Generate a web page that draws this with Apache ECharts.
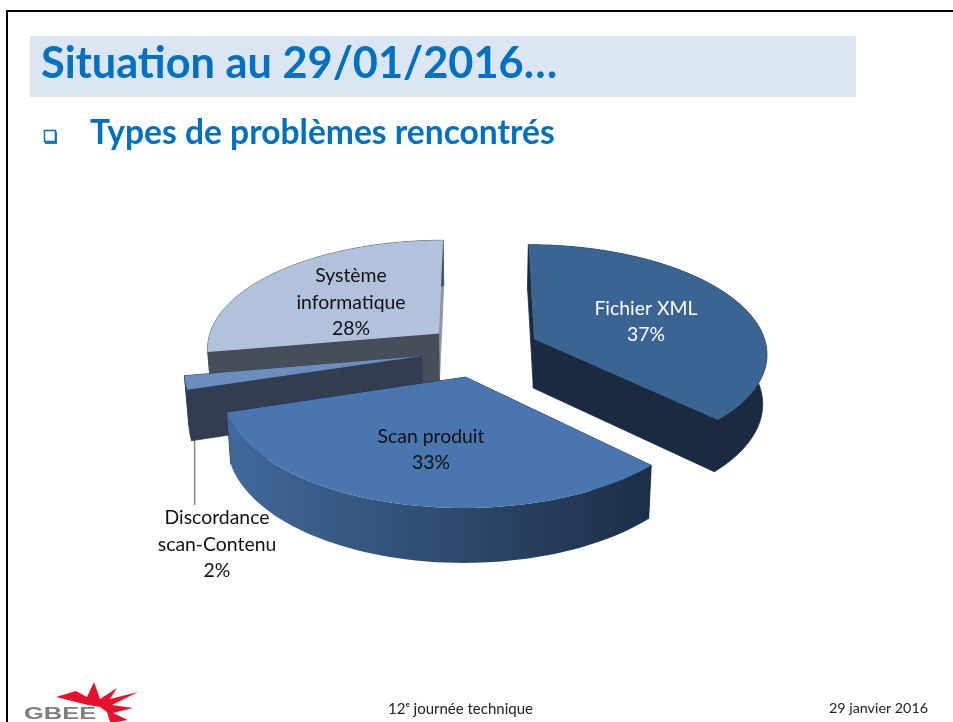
<!DOCTYPE html>
<html>
<head>
<meta charset="utf-8">
<script src="https://cdn.jsdelivr.net/npm/echarts@6/dist/echarts.min.js"></script>
<style>html,body{margin:0;padding:0;background:#fff}#c{width:953px;height:722px}</style>
</head>
<body>
<div id="c"></div>
<script>
// ---- data ----
const categories = ['Fichier XML', 'Scan produit', 'Discordance scan-Contenu', 'Système informatique'];
const labelLines = [['Fichier XML'], ['Scan produit'], ['Discordance', 'scan-Contenu'], ['Système', 'informatique']];
const values = [37.4, 32.8, 2, 27.8];
const titleText = 'Situation au 29/01/2016…';
const subtitleText = 'Types de problèmes rencontrés';
const footerCenter = '12ᵉ journée technique';
const footerRight = '29 janvier 2016';
const logoText = 'GBEE';

// ---- projection of the tilted pie ----
const view = { cx: 480, cy: 349.5, a: 233, b: 108, p: 0.12, depth: 49.4, kx: 0.985, ky: 1.035 };
const sliceStyle = [
  { explode: 0.255, top: '#3a6492', wallStart: '#1a2a40', wallEnd: '#1a2a40', side: '#1a2a40', text: '#ffffff', layer: 30, label: [646, 321.5] },
  { explode: 0.255, top: '#4a76b0', wallStart: '#1d2f48', wallEnd: '#1d2f48', side: ['#41699a', '#1c2e46'], text: '#111111', layer: 40, label: [431, 449.5] },
  { explode: 0.255, top: '#6c8ebf', wallStart: '#333d52', wallEnd: '#333d52', side: '#333d52', text: '#111111', layer: 20, label: [217, 544.5] },
  { explode: 0.235, top: '#b3c2dc', wallStart: '#474e5b', wallEnd: '#8d96a8', side: '#474e5b', text: '#111111', layer: 10, label: [351, 302.5] }
];

const total = values.reduce((s, v) => s + v, 0);
const rad = d => d * Math.PI / 180;
function project(X, Y) {
  const w = 1 - view.p * Y;
  return [view.cx + view.a * X / w, view.cy + view.b * Y / w];
}
function lower(pt) {
  return [view.cx + (pt[0] - view.cx) * view.kx, view.cy + (pt[1] - view.cy) * view.ky + view.depth];
}
function sliceAngles(i) {
  let start = 0;
  for (let k = 0; k < i; k++) start += values[k] / total * 360;
  return [start, start + values[i] / total * 360];
}
function renderSlice(params, api) {
  const i = params.dataIndex;
  const [a0, a1] = sliceAngles(i);
  const mid = rad((a0 + a1) / 2);
  const s = sliceStyle[i];
  const ox = Math.sin(mid) * s.explode, oy = -Math.cos(mid) * s.explode;
  const apex = project(ox, oy);
  const arc = [];
  const steps = Math.max(2, Math.ceil((a1 - a0) / 2));
  for (let k = 0; k <= steps; k++) {
    const t = rad(a0 + (a1 - a0) * k / steps);
    arc.push(project(ox + Math.sin(t), oy - Math.cos(t)));
  }
  const first = arc[0], last = arc[arc.length - 1];
  const poly = (points, fill, z2, stroke) => ({
    type: 'polygon', silent: true, z2, shape: { points },
    style: { fill, stroke: stroke || null, lineWidth: stroke ? 0.8 : 0 }
  });
  const wallFill = Array.isArray(s.side)
    ? { type: 'linear', x: 0, y: 0, x2: 1, y2: 0, colorStops: [{ offset: 0, color: s.side[0] }, { offset: 1, color: s.side[1] }] }
    : s.side;
  const children = [
    poly([apex, last, lower(last), lower(apex)], s.wallEnd, s.layer, s.wallEnd),
    poly([apex, first, lower(first), lower(apex)], s.wallStart, s.layer + 1, s.wallStart),
    poly(arc.concat(arc.map(lower).reverse()), wallFill, s.layer + 2, Array.isArray(s.side) ? null : s.side),
    poly([apex].concat(arc), s.top, s.layer + 3)
  ];
  const pct = Math.round(values[i] / total * 100) + '%';
  children.push({
    type: 'text', silent: true, z2: 100,
    style: {
      x: s.label[0], y: s.label[1], text: labelLines[i].concat(pct).join('\n'),
      fill: s.text, font: '19.4px Lato', lineHeight: 26.5, align: 'center', verticalAlign: 'middle'
    }
  });
  if (labelLines[i].length === 2 && values[i] < 5) {
    const foot = lower(arc[0]);
    children.push({
      type: 'line', silent: true, z2: 5,
      shape: { x1: foot[0] + 3, y1: foot[1] - 6, x2: foot[0] + 3, y2: 505 },
      style: { stroke: '#868686', lineWidth: 1.5 }
    });
  }
  return { type: 'group', children };
}

const chart = echarts.init(document.getElementById('c'));
chart.setOption({
  animation: false,
  backgroundColor: '#ffffff',
  title: [
    { text: titleText, left: 41, top: 43, padding: 0, textStyle: { color: '#0070c0', fontFamily: 'Lato', fontWeight: 'bold', fontSize: 43.3 } },
    { text: subtitleText, left: 90, top: 116, padding: 0, textStyle: { color: '#0070c0', fontFamily: 'Lato', fontWeight: 'bold', fontSize: 33.6 } }
  ],
  series: [{
    type: 'custom',
    coordinateSystem: 'none',
    renderItem: renderSlice,
    data: values.map((v, i) => ({ name: categories[i], value: v })),
    silent: true
  }],
  graphic: [
    { type: 'rect', z: -5, silent: true, shape: { x: 30, y: 36, width: 826, height: 61 }, style: { fill: '#dce6f2' } },
    { type: 'rect', z: -5, silent: true, shape: { x: 6, y: 10, width: 947, height: 2 }, style: { fill: '#000' } },
    { type: 'rect', z: -5, silent: true, shape: { x: 6, y: 10, width: 2, height: 712 }, style: { fill: '#000' } },
    { type: 'rect', z: -5, silent: true, shape: { x: 45, y: 132, width: 12, height: 12 }, style: { fill: '#2a7fc4' } },
    { type: 'rect', z: -4, silent: true, shape: { x: 44.5, y: 130.5, width: 11, height: 11 }, style: { fill: '#fff', stroke: '#0070c0', lineWidth: 1.5 } },
    { type: 'polygon', z: 1, silent: true,
      shape: { points: [[56,697],[76,691],[87,697],[94,682],[100,699],[117,688],[110,699],[138,692],[112,705],[133,708],[113,713],[128,720],[116,722],[110,722],[107,712],[100,707],[88,705]] },
      style: { fill: '#e8112d' } },
    { type: 'text', z: 2, silent: true, x: 24, y: 706, scaleX: 1.5,
      style: { text: logoText, fill: '#7f7f7f', font: 'bold 17px "Liberation Sans"' } },
    { type: 'text', z: 2, silent: true,
      style: { x: 388, y: 709, text: footerCenter, fill: '#222', font: '15px Lato', verticalAlign: 'middle' } },
    { type: 'text', z: 2, silent: true,
      style: { x: 829, y: 708, text: footerRight, fill: '#222', font: '14.3px Lato', verticalAlign: 'middle' } }
  ]
});
</script>
</body>
</html>
